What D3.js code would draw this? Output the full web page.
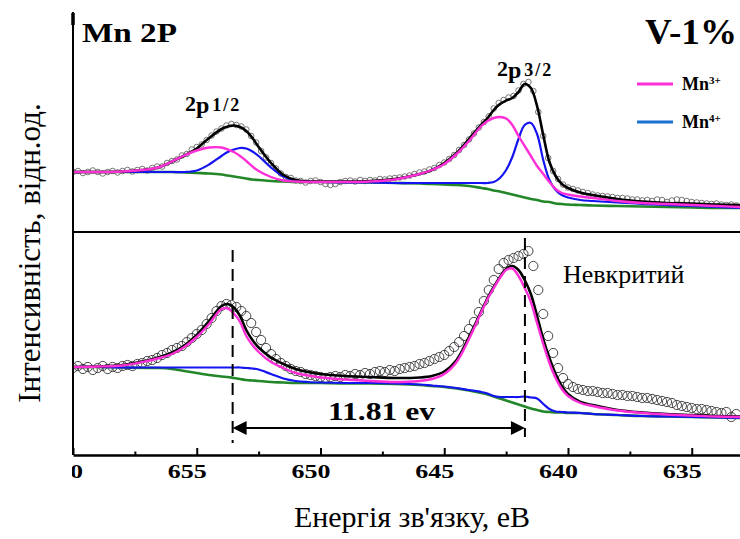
<!DOCTYPE html>
<html>
<head>
<meta charset="UTF-8">
<script src="https://d3js.org/d3.v7.min.js"></script>
</head>
<body style="margin:0">
<svg id="chart" width="740" height="539"></svg>
<script>
// binding energy grid for the fitted curves (eV)
const fitEnergy = [660, 659, 658, 657, 656.5, 656, 655.5, 655, 654.5, 654, 653.75, 653.5, 653.25, 653, 652.75, 652.5, 652, 651.5, 651, 650.5, 650, 649, 648, 647, 646, 645.5, 645, 644.5, 644, 643.5, 643.25, 643, 642.75, 642.5, 642.25, 642, 641.75, 641.5, 641.25, 641, 640.75, 640.5, 640.25, 640, 639.5, 639, 638, 637, 636, 635, 634, 633];

// upper panel (V-1%)
const bgTop  = [60,60,60,60,60,60,59.5,59,58.5,57.5,56.5,55.5,54.5,53.5,52.5,52,51,50.5,50,50,50,49.5,49.5,49,48.5,48,47.5,47,46,44,43,41.5,40.5,39,37.5,36,34.5,33,32,30.5,30,28.5,28,27.5,27,26.5,26,25.5,25,24.5,24,24];
const mn3Top = [60,60,60.5,62.5,65,70.5,76.5,81.5,84.5,84.5,82.5,80,76,71,65.5,61,55,51.5,50.5,50,50,50,50.5,52.5,58,62,68,78,91,106,111,114,115,113.5,107,96,86,76,66,58,50,43,39,37.5,35.5,34,31,29,28,27,26,25];
const mn4Top = [60,60,60,60,60,60,60,61.5,67.5,76,80,82.5,84,83.5,80.5,76,64.5,55.5,51.5,50.5,50,49.5,49.5,49,49,49,49,49,49,49,49,50,54,62,75,93,107,109,98,72,52,42,37,34.5,32,31,29.5,28,27,26,25,24];
const envTop = [60,60,60.5,62.5,65,70.5,76.5,83.5,94,103,105.5,106.5,105,101,94,85,69,57,52,50.5,50.5,50.5,51,53,58,62,69,79,93,107.5,114,122,128,131.5,134,140,148,144,126,97,70,56,48,44,39.5,37,33,30.5,29,28.5,27.5,27];

// lower panel (uncoated)
const bgBot  = [88,88,87.5,87,87,86,84,82,80,78.5,78,77,76,75,74.5,74,73,72.5,72,72,72,71.5,71.5,71,70,69,68,66.5,64.5,62,60.5,58.5,56.5,54.5,52.5,50.5,48.5,46.5,45,43.5,43,42.5,42.5,42,42,41,40,39,38.5,38,37.5,37];
const mn3Bot = [88,88.5,89.5,94,97,101,108,118,131,146,146.5,141.5,133,119,110,103,93,87,82,79.5,77.5,75.5,74,73,74,76,81,93,116,143,156,167,177,185,186.5,179,167,153,132,111,92,77,66,59,52,49,44.5,42,40.5,39.5,38.5,38];
const mn4Bot = [88,88,87.5,87.5,87.5,87.5,87.5,87.5,87.5,87.5,87.5,87.5,87.5,87,86.5,85.5,81,76.5,74,73,72.5,72,72,71.5,70.5,69.5,68.5,67,65,63,61.5,59,58,58,58,58,58.5,57.5,56.5,51,46,43.5,43,42.5,42,41,40,39,38.5,38,37.5,37];
const envBot = [88,88.5,90,94.5,98,102.5,109.5,120,134,149,151,147.5,139,125,115,107.5,97.5,91,86,83,81,79,78,77,77.5,79,83.5,95,118,144,157,168,178,186,189,185,175,161,139,116,97,81,69,61,53,50,45,42.5,41,40,39,38.5];

// measured points, 0.2 eV step from 660 eV
const scanStart = 660, scanStep = 0.2;
const scanTop = [60,61,59,60,61.5,60,58.5,60,61,59.5,
  61,62,60.5,62,63,61.5,64,65.5,65.5,69,
  71,72.5,76.5,78,82.5,85,87.5,92,96.5,100.5,
  103.5,106.5,108,107,105.5,102.5,96,89.5,81,74.5,
  69,63.5,58.5,55,54,51.5,51,49.5,51,51.5,
  50,48,47,48,50,51,51.5,50.5,52,51,
  52,51.5,53,52.5,53.5,54,54.5,55.5,56.5,58,
  59.5,60.5,62.5,64,67,69.5,73,77,82,87,
  92.5,98.5,104.5,110,115.5,123.5,129,132,134.5,136,
  141.5,148,150,141,120,96,74,61,53,47.5,
  44.5,43,41.5,40,39,37.5,36.5,36,35.5,35,
  34,34,33.5,32.5,32.5,31.5,32,31,32.5,32,
  30,31.5,32.5,32,31,30,29.5,29,28.5,28,
  28.5,27.5,27,27.5,26.5];
const scanBot = [87,89,86,88,85,87,89,86,88,87,
  89,90,89,91,92,94,95,97,100,102,
  105,107,109,113,117,121,125,131,137,144,
  149,151,150,148,144,139,132,123,115,107,
  101,96,92,89,86,84,83,81,80,79,
  78,77,78,79,78,80,79,81,80,82,
  81,83,84,83,85,84,86,87,88,89,
  91,92,94,96,98,100,104,108,113,119,
  126,133,143,154,165,175,186,192,195,197,
  199,201,204,189,165,141,119,102,87,77,
  71,68,66,65,64,64,63,62,62,61,
  60,60,59,59,58,57,57,56,55,54,
  53,52,50,49,48,47,46,46,45,44,
  43,42,43,38,41];

const majorTicks = [660, 655, 650, 645, 640, 635];
const minorTicks = [657.5, 652.5, 647.5, 642.5, 637.5];
const peakLeft = 653.55, peakRight = 641.74;   // 11.81 eV apart

const colors = { env: "#000", mn3: "#ff2fd8", mn4: "#1414f0", bg: "#23872a", legend4: "#1a6fd2" };
const serif = "Liberation Serif";

const svg = d3.select("#chart");
const x = d3.scaleLinear().domain([660, 633.05]).range([73, 740]);
const yTop = d3.scaleLinear().domain([0, 220]).range([232, 12]);
const yBot = d3.scaleLinear().domain([0, 223]).range([455, 232]);

function drawPanel(y, scan, r, circleStroke, bg, mn4, mn3, env) {
  const g = svg.append("g");
  g.selectAll("circle").data(scan).join("circle")
    .attr("cx", (d, i) => x(scanStart - i * scanStep))
    .attr("cy", d => y(d))
    .attr("r", r)
    .attr("fill", "none")
    .attr("stroke", circleStroke)
    .attr("stroke-width", 0.9);
  const line = d3.line().x((d, i) => x(fitEnergy[i])).y(d => y(d)).curve(d3.curveCatmullRom.alpha(0.5));
  [[bg, colors.bg, 2.6], [mn4, colors.mn4, 2.2], [env, colors.env, 2.6], [mn3, colors.mn3, 2.4]].forEach(([vals, c, w]) => {
    g.append("path").attr("d", line(vals)).attr("fill", "none").attr("stroke", c).attr("stroke-width", w);
  });
}

drawPanel(yTop, scanTop, 2.8, "#666", bgTop, mn4Top, mn3Top, envTop);
drawPanel(yBot, scanBot, 4.6, "#333", bgBot, mn4Bot, mn3Bot, envBot);

// bottom axis, ticks point inward
const axisG = svg.append("g").attr("transform", "translate(0,455)");
axisG.call(d3.axisBottom(x).tickValues(majorTicks).tickSize(-7).tickSizeOuter(0).tickPadding(10).tickFormat(d3.format("d")));
axisG.attr("font-family", serif);
axisG.select(".domain").attr("stroke-width", 2.5);
axisG.selectAll(".tick line").attr("stroke-width", 2);
axisG.selectAll(".tick text")
  .attr("font-family", serif)
  .attr("font-weight", "bold").attr("font-size", 19)
  .attr("dx", -10).attr("textLength", 39).attr("lengthAdjust", "spacingAndGlyphs");
const minorG = svg.append("g").attr("transform", "translate(0,455)");
minorG.call(d3.axisBottom(x).tickValues(minorTicks).tickSize(-3.5).tickSizeOuter(0).tickFormat(""));
minorG.select(".domain").remove();
minorG.selectAll(".tick line").attr("stroke-width", 2);

// the figure is cropped at the left axis
svg.append("rect").attr("x", 0).attr("y", 0).attr("width", 72).attr("height", 539).attr("fill", "#fff");

// frame: left axis and panel divider
svg.append("line").attr("x1", 73).attr("x2", 73).attr("y1", 12).attr("y2", 455)
  .attr("stroke", "#000").attr("stroke-width", 2);
svg.append("line").attr("x1", 73).attr("x2", 73).attr("y1", 13).attr("y2", 25)
  .attr("stroke", "#000").attr("stroke-width", 3.5);
svg.append("line").attr("x1", 73).attr("x2", 740).attr("y1", yTop(0)).attr("y2", yTop(0))
  .attr("stroke", "#000").attr("stroke-width", 2);

// peak separation
const dash = [[peakLeft, 205, 12], [peakRight, 217, 18]];
svg.selectAll(".sep").data(dash).join("line").attr("class", "sep")
  .attr("x1", d => x(d[0])).attr("x2", d => x(d[0]))
  .attr("y1", d => yBot(d[1])).attr("y2", d => yBot(d[2]))
  .attr("stroke", "#000").attr("stroke-width", 2).attr("stroke-dasharray", "12,7");
const ay = yBot(27);
svg.append("line")
  .attr("x1", x(peakLeft) + 10).attr("x2", x(peakRight) - 10)
  .attr("y1", ay).attr("y2", ay)
  .attr("stroke", "#000").attr("stroke-width", 2.2);
const xl = x(peakLeft), xr = x(peakRight);
svg.append("path").attr("fill", "#000")
  .attr("d", `M${xl},${ay} L${xl + 14},${ay - 7} L${xl + 14},${ay + 7} Z M${xr},${ay} L${xr - 14},${ay - 7} L${xr - 14},${ay + 7} Z`);

function label(px, py, size, txt, weight, len) {
  const t = svg.append("text").attr("x", px).attr("y", py)
    .attr("font-size", size).attr("font-family", serif)
    .attr("font-weight", weight).text(txt);
  if (len) t.attr("textLength", len).attr("lengthAdjust", "spacingAndGlyphs");
  return t;
}

label(328, 420, 26, "11.81 ev", "bold", 107);
label(82, 42, 27, "Mn 2P", "bold", 95);
label(645, 44, 35, "V-1%", "bold", 92);

function orbital(px, py, frac) {
  const t = svg.append("text").attr("x", px).attr("y", py)
    .attr("font-family", serif).attr("font-weight", "bold");
  t.append("tspan").attr("font-size", 22).text("2");
  t.append("tspan").attr("font-size", 24).attr("dy", 2).text("p");
  t.append("tspan").attr("font-size", 18).attr("dx", 3).attr("dy", -2).attr("letter-spacing", 2).text(frac);
}
orbital(185, 111, "1/2");
orbital(497, 76, "3/2");

const legend = [["3+", colors.mn3, 84], ["4+", colors.legend4, 122]];
legend.forEach(([sup, c, ly]) => {
  svg.append("line").attr("x1", 637).attr("x2", 673).attr("y1", ly).attr("y2", ly)
    .attr("stroke", c).attr("stroke-width", 2.8);
  const t = svg.append("text").attr("x", 682).attr("y", ly + 6)
    .attr("font-family", serif).attr("font-weight", "bold").attr("font-size", 18);
  t.append("tspan").text("Mn");
  t.append("tspan").attr("font-size", 11).attr("dy", -6).text(sup);
});

label(563, 283, 26, "Невкритий", "normal");
label(412, 527, 30, "Енергія зв'язку, еВ", "normal").attr("text-anchor", "middle");
svg.append("text").attr("transform", "translate(40,253) rotate(-90)").attr("text-anchor", "middle")
  .attr("font-family", serif).attr("font-size", 31).text("Інтенсивність, відн.од.");
</script>
</body>
</html>
